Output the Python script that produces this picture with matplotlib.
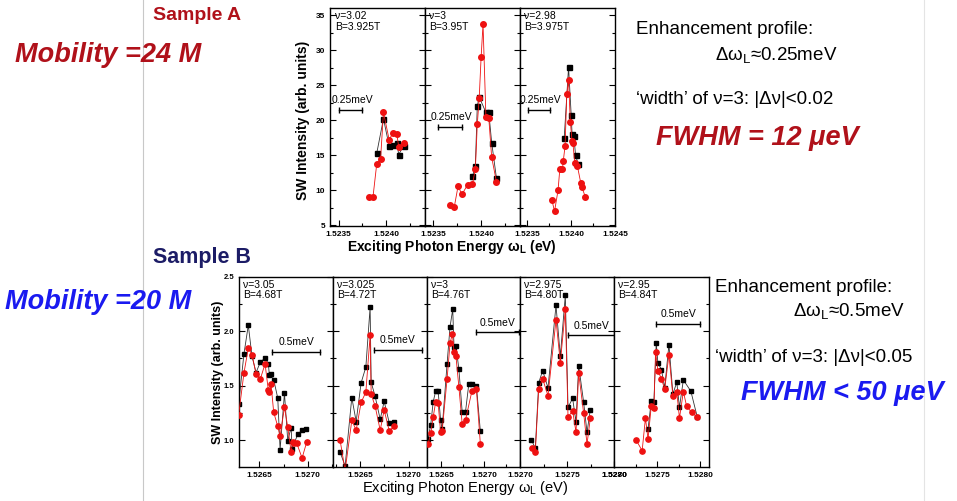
import numpy as np
import matplotlib
matplotlib.use("Agg")
import matplotlib.pyplot as plt
from matplotlib.lines import Line2D
from matplotlib.ticker import MultipleLocator, FormatStrFormatter

plt.rcParams['font.family'] = ['Liberation Sans', 'DejaVu Sans']

# ---- Sample A (top): three panels, energy (eV) / SW intensity
a_labels = ["ν=3.02\nB=3.925T", "ν=3\nB=3.95T", "ν=2.98\nB=3.975T"]

a1_red_x = [1.52382, 1.52386, 1.52390, 1.52394, 1.52397, 1.52403, 1.52407, 1.52411, 1.52413, 1.52418]
a1_red_y = [9.0, 9.0, 13.8, 14.5, 21.1, 17.2, 18.2, 18.0, 16.2, 16.7]
a1_blk_x = [1.52390, 1.52397, 1.52403, 1.52407, 1.52411, 1.52413, 1.52418]
a1_blk_y = [15.3, 20.2, 16.3, 16.5, 16.8, 15.1, 16.3]

a2_red_x = [1.52368, 1.52372, 1.52376, 1.52380, 1.52386, 1.52391, 1.52394, 1.52396,
            1.52398, 1.52400, 1.52402, 1.52405, 1.52408, 1.52411, 1.52416]
a2_red_y = [7.9, 7.6, 10.6, 9.4, 10.8, 10.9, 13.0, 19.4, 23.1, 29.0, 33.7, 20.5, 20.3, 14.7, 11.2]
a2_blk_x = [1.52391, 1.52394, 1.52396, 1.52398, 1.52405, 1.52408, 1.52411, 1.52416]
a2_blk_y = [12.0, 13.4, 22.0, 23.3, 21.1, 21.1, 16.8, 11.7]

a3_red_x = [1.52378, 1.52381, 1.52385, 1.52387, 1.52390, 1.52391, 1.52393, 1.52395, 1.52397,
            1.52399, 1.52401, 1.52402, 1.52404, 1.52407, 1.52411, 1.52412, 1.52416]
a3_red_y = [8.6, 7.0, 10.0, 13.0, 13.0, 14.2, 16.3, 23.7, 25.7, 19.8, 17.0, 16.7, 13.9, 13.5, 11.0, 10.5, 9.1]
a3_blk_x = [1.52392, 1.52397, 1.52400, 1.52401, 1.52403, 1.52405, 1.52408]
a3_blk_y = [17.4, 27.6, 20.7, 18.0, 17.7, 15.0, 13.7]

# ---- Sample B (bottom): five panels
b_labels = ["ν=3.05\nB=4.68T", "ν=3.025\nB=4.72T", "ν=3\nB=4.76T", "ν=2.975\nB=4.80T", "ν=2.95\nB=4.84T"]

b1_blk_x = [1.526286, 1.526341, 1.526386, 1.526424, 1.526466, 1.526510, 1.526559, 1.526593,
            1.526603, 1.526621, 1.526648, 1.526690, 1.526714, 1.526759, 1.526793, 1.526828,
            1.526838, 1.526897, 1.526941, 1.526983]
b1_blk_y = [1.33, 1.79, 2.055, 1.77, 1.62, 1.715, 1.755, 1.70, 1.60, 1.61, 1.555, 1.385, 0.91,
            1.43, 0.995, 1.115, 0.92, 1.055, 1.09, 1.10]
b1_red_x = [1.526286, 1.526341, 1.526386, 1.526424, 1.526466, 1.526510, 1.526559, 1.526593,
            1.526603, 1.526621, 1.526648, 1.526690, 1.526714, 1.526759, 1.526793, 1.526828,
            1.526845, 1.526862, 1.526886, 1.526941, 1.526990]
b1_red_y = [1.23, 1.615, 1.845, 1.785, 1.605, 1.56, 1.70, 1.455, 1.445, 1.51, 1.255, 1.125,
            1.035, 1.30, 1.12, 0.89, 0.985, 0.975, 0.97, 0.835, 0.985]

b2_blk_x = [1.526293, 1.526345, 1.526414, 1.526459, 1.526510, 1.526559, 1.526603, 1.526614,
            1.526655, 1.526707, 1.526748, 1.526800, 1.526852]
b2_blk_y = [0.89, 0.76, 1.39, 1.17, 1.525, 1.67, 2.22, 1.53, 1.40, 1.19, 1.355, 1.16, 1.17]
b2_red_x = [1.526293, 1.526345, 1.526414, 1.526459, 1.526510, 1.526559, 1.526603, 1.526614,
            1.526655, 1.526707, 1.526748, 1.526800, 1.526852]
b2_red_y = [1.0, 0.72, 1.18, 1.09, 1.345, 1.44, 1.96, 1.42, 1.31, 1.09, 1.275, 1.085, 1.125]

b3_blk_x = [1.526351, 1.526383, 1.526411, 1.526440, 1.526468, 1.526497, 1.526514, 1.526571,
            1.526605, 1.526636, 1.526651, 1.526673, 1.526707, 1.526745, 1.526783, 1.526821,
            1.526858, 1.526908, 1.526954]
b3_blk_y = [1.01, 1.14, 1.35, 1.45, 1.45, 1.18, 1.10, 1.70, 2.04, 2.20, 1.85, 1.86, 1.65,
            1.255, 1.26, 1.515, 1.51, 1.50, 1.08]
b3_red_x = [1.526351, 1.526383, 1.526411, 1.526440, 1.526468, 1.526497, 1.526514, 1.526571,
            1.526605, 1.526632, 1.526651, 1.526673, 1.526707, 1.526745, 1.526783, 1.526858,
            1.526908, 1.526954]
b3_red_y = [0.96, 1.06, 1.21, 1.35, 1.34, 1.07, 1.08, 1.56, 1.89, 1.975, 1.81, 1.77, 1.485,
            1.147, 1.184, 1.454, 1.47, 0.963]

b4_blk_x = [1.527121, 1.527163, 1.527199, 1.527241, 1.527298, 1.527383, 1.527429, 1.527482,
            1.527511, 1.527560, 1.527596, 1.527624, 1.527677, 1.527713, 1.527748]
b4_blk_y = [1.003, 0.923, 1.525, 1.638, 1.479, 2.236, 1.77, 2.328, 1.30, 1.383, 1.163, 1.684,
            1.347, 1.07, 1.279]
b4_red_x = [1.527128, 1.527163, 1.527199, 1.527241, 1.527298, 1.527383, 1.527429, 1.527482,
            1.527511, 1.527560, 1.527596, 1.527624, 1.527677, 1.527713, 1.527748]
b4_red_y = [0.923, 0.893, 1.469, 1.561, 1.408, 2.104, 1.709, 2.199, 1.209, 1.27, 1.07, 1.617,
            1.248, 0.963, 1.20]

b5_blk_x = [1.527394, 1.527432, 1.527462, 1.527489, 1.527508, 1.527549, 1.527587, 1.527636,
            1.527682, 1.527727, 1.527758, 1.527803, 1.527890, 1.527965]
b5_blk_y = [1.10, 1.362, 1.353, 1.893, 1.709, 1.647, 1.479, 1.877, 1.423, 1.531, 1.30, 1.552,
            1.448, 1.209]
b5_red_x = [1.527254, 1.527326, 1.527364, 1.527394, 1.527432, 1.527462, 1.527481, 1.527508,
            1.527549, 1.527587, 1.527636, 1.527682, 1.527727, 1.527758, 1.527803, 1.527841,
            1.527898, 1.527965]
b5_red_y = [1.003, 0.902, 1.202, 1.009, 1.316, 1.291, 1.813, 1.638, 1.561, 1.469, 1.782, 1.402,
            1.44, 1.20, 1.445, 1.31, 1.255, 1.209]

RED = "#ee1111"
DARKRED = "#b0111a"
BLUE = "#1a1af0"
NAVY = "#1c1c66"


def style_panel(ax, show_y):
    ax.tick_params(which="both", direction="in", top=False, right=True, labelsize=6, length=4, width=0.8)
    ax.tick_params(which="minor", length=2)
    for lab in ax.get_xticklabels() + ax.get_yticklabels():
        lab.set_fontweight("bold")
    if not show_y:
        ax.tick_params(labelleft=False)
    for s in ax.spines.values():
        s.set_linewidth(1.0)


def plot_series(ax, rx, ry, bx, by, ms=3.6):
    ax.plot(bx, by, color="#333333", lw=0.6, marker="s", ms=ms, mfc="black", mec="black", zorder=2)
    ax.plot(rx, ry, color=RED, lw=0.6, marker="o", ms=ms + 0.4, mfc=RED, mec=RED, zorder=3)


fig = plt.figure(figsize=(9.57, 5.01), dpi=100)
W, H = 957.0, 501.0

# ---- top block
top_edges = [330, 424.5, 519.5, 615]
top_series = [(a1_red_x, a1_red_y, a1_blk_x, a1_blk_y),
              (a2_red_x, a2_red_y, a2_blk_x, a2_blk_y),
              (a3_red_x, a3_red_y, a3_blk_x, a3_blk_y)]
top_xlims = [(1.52341, 1.52440), (1.52341, 1.52440), (1.52341, 1.52450)]
top_bar = [(1.52350, 21.4), (1.52355, 19.0), (1.52351, 21.4)]
for i in range(3):
    x0, x1 = top_edges[i], top_edges[i + 1]
    ax = fig.add_axes([x0 / W, 1 - 226 / H, (x1 - x0) / W, 218 / H])
    rx, ry, bx, by = top_series[i]
    plot_series(ax, rx, ry, bx, by)
    ax.set_xlim(*top_xlims[i])
    ax.set_ylim(4.9, 36)
    ax.xaxis.set_major_locator(MultipleLocator(0.0005))
    ax.xaxis.set_minor_locator(MultipleLocator(0.00025))
    ax.xaxis.set_major_formatter(FormatStrFormatter("%.4f"))
    ax.yaxis.set_major_locator(MultipleLocator(5))
    ax.yaxis.set_minor_locator(MultipleLocator(2.5))
    style_panel(ax, i == 0)
    ax.text(0.05, 0.985, a_labels[i], transform=ax.transAxes, va="top", ha="left", fontsize=7.5, linespacing=1.1)
    bx0, by0 = top_bar[i]
    ax.plot([bx0, bx0 + 0.00025], [by0, by0], color="black", lw=1.0, marker="|", ms=4)
    ax.text(bx0 + 0.00014, by0 + 0.7, "0.25meV", ha="center", va="bottom", fontsize=7.5)

fig.text(303 / W, 1 - 120 / H, "SW Intensity (arb. units)", rotation=90, ha="center", va="center",
         fontsize=10, fontweight="bold")
fig.text(452 / W, 1 - 247 / H, "Exciting Photon Energy ω$_\\mathregular{L}$ (eV)", ha="center", va="center",
         fontsize=10, fontweight="bold")

# ---- bottom block
bot_edges = [239, 333, 427, 520, 614, 709]
bot_series = [(b1_red_x, b1_red_y, b1_blk_x, b1_blk_y),
              (b2_red_x, b2_red_y, b2_blk_x, b2_blk_y),
              (b3_red_x, b3_red_y, b3_blk_x, b3_blk_y),
              (b4_red_x, b4_red_y, b4_blk_x, b4_blk_y),
              (b5_red_x, b5_red_y, b5_blk_x, b5_blk_y)]
bot_xlims = [(1.52629, 1.52726), (1.52622, 1.52719), (1.52634, 1.52741), (1.52700, 1.52800), (1.52700, 1.52810)]
bot_bar = [(1.526631, 1.81), (1.526638, 1.83), (1.526900, 1.99), (1.527511, 1.96), (1.527492, 2.07)]
for i in range(5):
    x0, x1 = bot_edges[i], bot_edges[i + 1]
    ax = fig.add_axes([x0 / W, 1 - 466.7 / H, (x1 - x0) / W, 190 / H])
    rx, ry, bx, by = bot_series[i]
    plot_series(ax, rx, ry, bx, by, ms=3.4)
    ax.set_xlim(*bot_xlims[i])
    ax.set_ylim(0.755, 2.5)
    ax.xaxis.set_major_locator(MultipleLocator(0.0005))
    ax.xaxis.set_minor_locator(MultipleLocator(0.00025))
    ax.xaxis.set_major_formatter(FormatStrFormatter("%.4f"))
    ax.yaxis.set_major_locator(MultipleLocator(0.5))
    ax.yaxis.set_minor_locator(MultipleLocator(0.25))
    ax.yaxis.set_major_formatter(FormatStrFormatter("%.1f"))
    style_panel(ax, i == 0)
    ax.tick_params(axis="y", labelsize=5.5)
    ax.text(0.04, 0.985, b_labels[i], transform=ax.transAxes, va="top", ha="left", fontsize=7.5, linespacing=1.1)
    bx0, by0 = bot_bar[i]
    ax.plot([bx0, bx0 + 0.0005], [by0, by0], color="black", lw=1.0, marker="|", ms=4)
    ax.text(bx0 + 0.00025, by0 + 0.04, "0.5meV", ha="center", va="bottom", fontsize=7.5)

fig.text(218 / W, 1 - 372 / H, "SW Intensity (arb. units)", rotation=90, ha="center", va="center",
         fontsize=9, fontweight="bold")
fig.text(465 / W, 1 - 488 / H, "Exciting Photon Energy ω$_\\mathregular{L}$ (eV)", ha="center", va="center",
         fontsize=10.5)

# ---- slide text
fig.add_artist(Line2D([143 / W, 143 / W], [0, 1], color="#c8c8c8", lw=0.8))
fig.add_artist(Line2D([924 / W, 924 / W], [0, 1], color="#e4e4e4", lw=0.8))

fig.text(153 / W, 1 - 15 / H, "Sample A", color=DARKRED, fontsize=14, fontweight="bold", va="center")
fig.text(15 / W, 1 - 55 / H, "Mobility =24 M", color=DARKRED, fontsize=19.5, fontweight="bold",
         fontstyle="italic", va="center")
fig.text(153 / W, 1 - 258 / H, "Sample B", color=NAVY, fontsize=15.5, fontweight="bold", va="center")
fig.text(5 / W, 1 - 302 / H, "Mobility =20 M", color=BLUE, fontsize=19.5, fontweight="bold",
         fontstyle="italic", va="center")

fig.text(636 / W, 1 - 30 / H, "Enhancement profile:", fontsize=13.5, va="center")
fig.text(715 / W, 1 - 56 / H, "Δω$_\\mathregular{L}$≈0.25meV", fontsize=13.5, va="center")
fig.text(636 / W, 1 - 100 / H, "‘width’ of ν=3: |Δν|<0.02", fontsize=13.5, va="center")
fig.text(656 / W, 1 - 138 / H, "FWHM = 12 μeV", color=DARKRED, fontsize=19.5, fontweight="bold",
         fontstyle="italic", va="center")

fig.text(715 / W, 1 - 288 / H, "Enhancement profile:", fontsize=13.5, va="center")
fig.text(793 / W, 1 - 312 / H, "Δω$_\\mathregular{L}$≈0.5meV", fontsize=13.5, va="center")
fig.text(715 / W, 1 - 357 / H, "‘width’ of ν=3: |Δν|<0.05", fontsize=13.5, va="center")
fig.text(741 / W, 1 - 393 / H, "FWHM < 50 μeV", color=BLUE, fontsize=19.5, fontweight="bold",
         fontstyle="italic", va="center")

fig.savefig("out.png", dpi=100)
